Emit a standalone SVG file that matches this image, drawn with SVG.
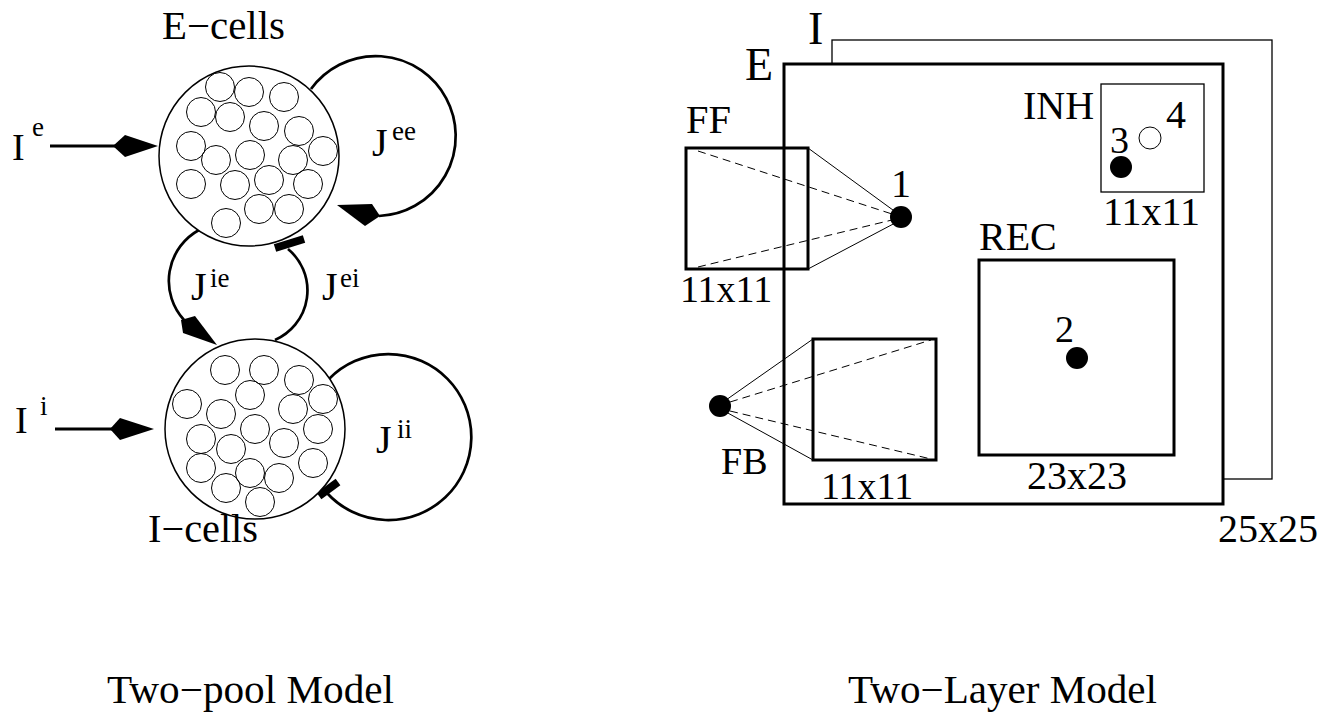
<svg xmlns="http://www.w3.org/2000/svg" width="1334" height="713" viewBox="0 0 1334 713">
<style>
text{font-family:"Liberation Serif","Times New Roman",serif;fill:#000}
.t40{font-size:40px}
.t38{font-size:38px}
.t46{font-size:46px}
.sup{font-size:27px}
.pool{fill:#fff;stroke:#000;stroke-width:1.5}
.cell{fill:none;stroke:#000;stroke-width:1}
.loop{fill:none;stroke:#000;stroke-width:2.7}
.head{fill:#000;stroke:none}
.bar{stroke:#000;stroke-width:8;fill:none}
.box{fill:none;stroke:#000;stroke-width:3}
.thin{fill:none;stroke:#000;stroke-width:1.3}
.ln{stroke:#000;stroke-width:1;fill:none}
.dash{stroke:#000;stroke-width:1;fill:none;stroke-dasharray:8,5}
.dot{fill:#000}
</style>

<!-- Two-pool model -->
<g id="connectors">
  <line x1="50" y1="146" x2="116" y2="146" stroke="#000" stroke-width="3"/>
  <polygon class="head" points="113,146 125,135 158,146 125,157"/>
  <line x1="55" y1="429" x2="112" y2="429" stroke="#000" stroke-width="3"/>
  <polygon class="head" points="110,429 120,418 154,429 120,440"/>
  <path class="loop" d="M311,89 A80,80 0 1 1 379,216"/>
  <polygon class="head" points="337,205 372,204 380,216 365,226"/>
  <path class="loop" d="M199,230 A58,58 0 0 0 184,320"/>
  <polygon class="head" points="181,320 195,316 217,345 183,333"/>
  <path class="loop" d="M288,249 A54,54 0 0 1 275,340"/>
  <line class="bar" x1="275" y1="248" x2="304" y2="239"/>
  <path class="loop" d="M329,379 A83,83 0 1 1 327,493"/>
  <line class="bar" x1="319" y1="496" x2="338" y2="482"/>
</g>

<g id="E-cells">
  <circle class="pool" cx="249" cy="156" r="90"/>
  <g class="cell">
    <circle cx="220" cy="87" r="14.5"/><circle cx="249" cy="92" r="14.5"/><circle cx="284" cy="97" r="14.5"/>
    <circle cx="201" cy="112" r="14.5"/><circle cx="230" cy="117" r="14.5"/><circle cx="264" cy="126" r="14.5"/>
    <circle cx="299" cy="131" r="14.5"/><circle cx="191" cy="146" r="14.5"/><circle cx="216" cy="160" r="14.5"/>
    <circle cx="250" cy="155" r="14.5"/><circle cx="293" cy="160" r="14.5"/><circle cx="323" cy="151" r="14.5"/>
    <circle cx="191" cy="184" r="14.5"/><circle cx="235" cy="185" r="14.5"/><circle cx="269" cy="180" r="14.5"/>
    <circle cx="308" cy="184" r="14.5"/><circle cx="259" cy="209" r="14.5"/><circle cx="289" cy="209" r="14.5"/>
    <circle cx="226" cy="223" r="14.5"/>
  </g>
  <text class="t40" x="162" y="39" textLength="123" lengthAdjust="spacingAndGlyphs">E−cells</text>
</g>

<g id="I-cells">
  <circle class="pool" cx="255" cy="429" r="90"/>
  <g class="cell">
    <circle cx="225" cy="370" r="14.5"/><circle cx="264" cy="370" r="14.5"/><circle cx="299" cy="380" r="14.5"/>
    <circle cx="250" cy="395" r="14.5"/><circle cx="187" cy="404" r="14.5"/><circle cx="221" cy="414" r="14.5"/>
    <circle cx="293" cy="409" r="14.5"/><circle cx="323" cy="399" r="14.5"/><circle cx="255" cy="429" r="14.5"/>
    <circle cx="318" cy="429" r="14.5"/><circle cx="201" cy="439" r="14.5"/><circle cx="231" cy="449" r="14.5"/>
    <circle cx="284" cy="443" r="14.5"/><circle cx="313" cy="463" r="14.5"/><circle cx="201" cy="468" r="14.5"/>
    <circle cx="250" cy="473" r="14.5"/><circle cx="279" cy="478" r="14.5"/><circle cx="226" cy="488" r="14.5"/>
    <circle cx="260" cy="502" r="14.5"/>
  </g>
  <text class="t40" x="148" y="542" textLength="110" lengthAdjust="spacingAndGlyphs">I−cells</text>
</g>

<g id="labels-left">
  <text class="t38" x="12" y="160">I</text><text class="sup" x="32" y="136">e</text>
  <text class="t38" x="15" y="433">I</text><text class="sup" x="40" y="415">i</text>
  <text class="t40" x="372" y="156">J</text><text class="sup" x="392" y="140">ee</text>
  <text class="t40" x="191" y="300">J</text><text class="sup" x="210" y="287">ie</text>
  <text class="t40" x="322" y="300">J</text><text class="sup" x="340" y="287">ei</text>
  <text class="t40" x="376" y="453">J</text><text class="sup" x="397" y="438">ii</text>
  <text class="t40" x="107" y="703" textLength="287" lengthAdjust="spacingAndGlyphs">Two−pool Model</text>
</g>

<!-- Two-layer model -->
<g id="layer-I">
  <rect class="thin" x="832" y="40" width="440" height="439"/>
  <text class="t46" x="808" y="44">I</text>
</g>
<g id="layer-E">
  <rect x="784" y="64" width="439" height="440" fill="#fff" stroke="#000" stroke-width="3"/>
  <text class="t46" x="745" y="80">E</text>
  <text class="t40" x="1218" y="542">25x25</text>
</g>

<g id="FF">
  <rect class="box" x="686" y="148" width="122" height="121"/>
  <text class="t40" x="686" y="133" textLength="45" lengthAdjust="spacingAndGlyphs">FF</text>
  <text class="t38" x="680" y="302">11x11</text>
</g>
<g id="FB">
  <rect class="box" x="813" y="339" width="123" height="121"/>
  <text class="t38" x="721" y="474">FB</text>
  <text class="t38" x="821" y="499">11x11</text>
</g>
<g id="REC">
  <rect class="box" x="979" y="260" width="195" height="195"/>
  <text class="t40" x="979" y="250">REC</text>
  <text class="t40" x="1027" y="489">23x23</text>
</g>
<g id="INH">
  <rect class="thin" x="1101" y="84" width="103" height="108"/>
  <text class="t40" x="1023" y="119">INH</text>
  <text class="t40" x="1103" y="225">11x11</text>
</g>

<g id="projections">
  <line class="ln" x1="808" y1="148" x2="897" y2="213"/>
  <line class="ln" x1="808" y1="269" x2="897" y2="222"/>
  <line class="dash" x1="698" y1="151" x2="892" y2="214"/>
  <line class="dash" x1="698" y1="267" x2="892" y2="220"/>
  <line class="ln" x1="726" y1="400" x2="813" y2="339"/>
  <line class="ln" x1="726" y1="412" x2="813" y2="460"/>
  <line class="dash" x1="730" y1="402" x2="931" y2="340"/>
  <line class="dash" x1="730" y1="411" x2="931" y2="459"/>
</g>

<g id="neuron-1">
  <circle class="dot" cx="901" cy="217" r="11"/>
  <text class="t40" x="891" y="197">1</text>
</g>
<g id="neuron-FB">
  <circle class="dot" cx="720" cy="406" r="11"/>
</g>
<g id="neuron-2">
  <circle class="dot" cx="1077" cy="358" r="11"/>
  <text class="t38" x="1055" y="342">2</text>
</g>
<g id="neuron-3">
  <circle class="dot" cx="1121" cy="167" r="11"/>
  <text class="t38" x="1110" y="153">3</text>
</g>
<g id="neuron-4">
  <circle cx="1150" cy="138" r="11" fill="none" stroke="#000" stroke-width="1"/>
  <text class="t40" x="1166" y="128">4</text>
</g>

<text class="t40" x="848" y="703" textLength="309" lengthAdjust="spacingAndGlyphs">Two−Layer Model</text>
</svg>
